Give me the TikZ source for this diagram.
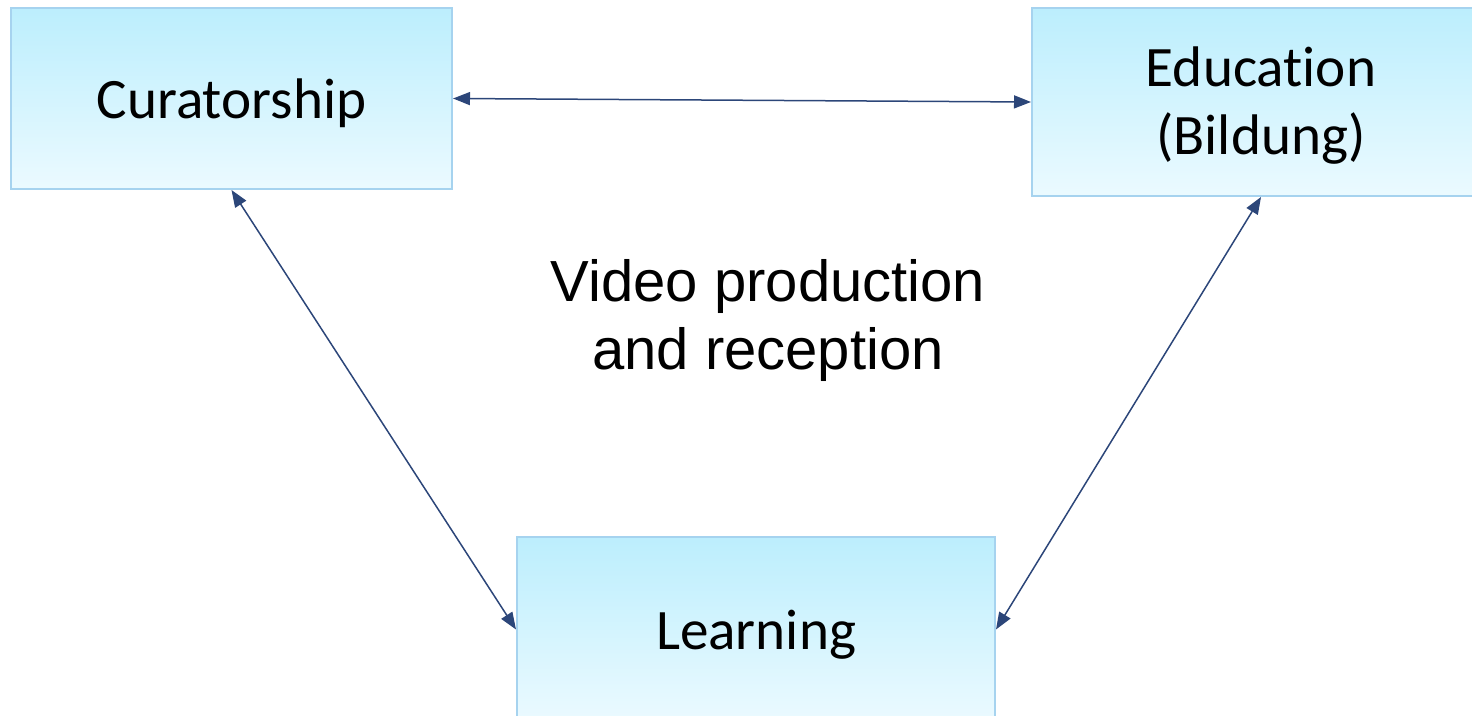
\documentclass[tikz,border=0pt]{standalone}
\usepackage{fontspec}
\newfontfamily\boxfont[Ligatures=NoCommon]{Carlito}
\newfontfamily\midfont{Liberation Sans}
\usetikzlibrary{arrows.meta}
\definecolor{boxtop}{HTML}{BCEEFD}
\definecolor{boxbot}{HTML}{EBFAFF}
\definecolor{boxedge}{HTML}{A6D3EF}
\definecolor{arrowc}{HTML}{2C4679}
\tikzset{
  conceptbox/.style={draw=boxedge, line width=1pt, top color=boxtop, bottom color=boxbot,
    font=\boxfont\fontsize{28.6pt}{34pt}\selectfont, align=center, inner sep=0pt},
  link/.style={draw=arrowc, line width=0.75pt,
    {Triangle[length=8.5pt,width=6.5pt]}-{Triangle[length=8.5pt,width=6.5pt]}},
  midtext/.style={font=\midfont\fontsize{29pt}{34pt}\selectfont, align=center, inner sep=0pt}
}
\begin{document}
\begin{tikzpicture}[x=0.5pt,y=-0.5pt]
\useasboundingbox (0,0) rectangle (1472,716);
\clip (0,0) rectangle (1472,716);
\node[conceptbox, minimum width=220.5pt, minimum height=90.5pt, text depth=0pt] (cur) at (231.5,98.5) {Curatorship};
\node[conceptbox, minimum width=229pt, minimum height=94pt] (edu) at (1261,102) {\rule{0pt}{23.5pt}Education\\(Bildung)};
\node[conceptbox, minimum width=239pt, minimum height=92.5pt, text depth=0pt] (learn) at (756,629.5) {Learning};
\node[midtext] (mid) at (768,321) {Video production\\and reception};
\draw[link] (cur.east) -- (edu.west);
\draw[link] (cur.south) -- (learn.west);
\draw[link] (edu.south) -- (learn.east);
\end{tikzpicture}
\end{document}
